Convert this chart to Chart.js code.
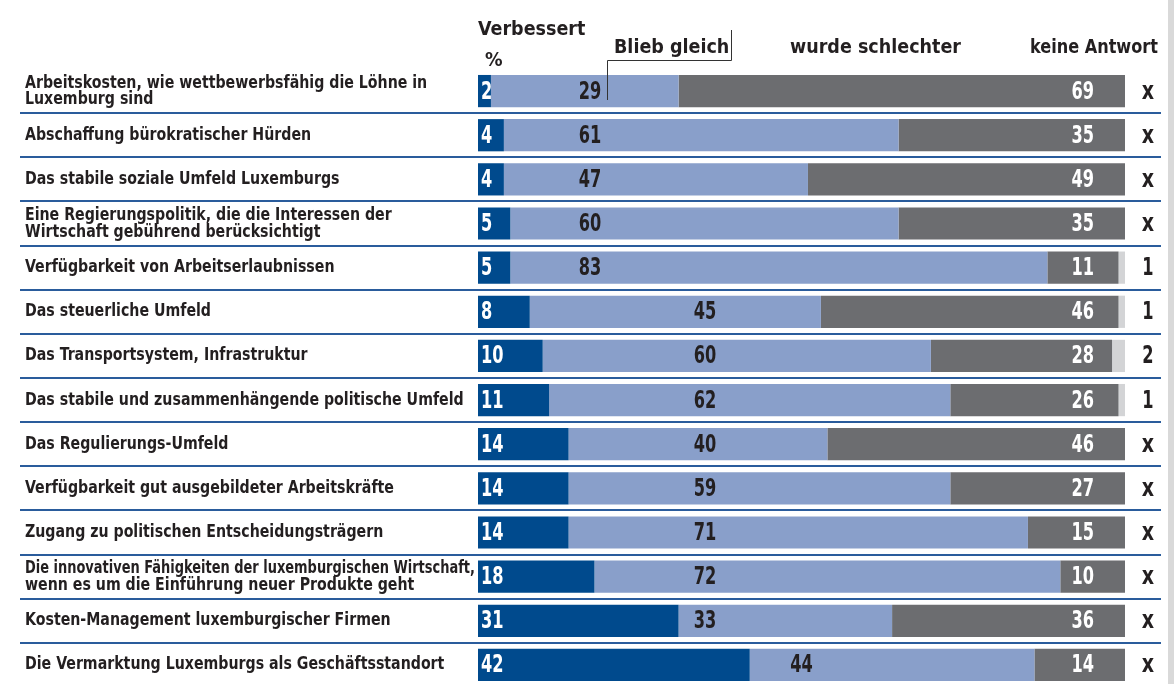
<!DOCTYPE html>
<html>
<head>
<meta charset="utf-8">
<script src="https://cdn.jsdelivr.net/npm/chart.js@4"></script>
<style>
  html, body { margin: 0; padding: 0; background: #fff; overflow: hidden; }
</style>
</head>
<body>
<canvas id="chart" width="1174" height="688"></canvas>
<script>
const FONT = '"DejaVu Sans Condensed", "DejaVu Sans", sans-serif';

const categories = [
  ['Arbeitskosten, wie wettbewerbsfähig die Löhne in', 'Luxemburg sind'],
  'Abschaffung bürokratischer Hürden',
  'Das stabile soziale Umfeld Luxemburgs',
  ['Eine Regierungspolitik, die die Interessen der', 'Wirtschaft gebührend berücksichtigt'],
  'Verfügbarkeit von Arbeitserlaubnissen',
  'Das steuerliche Umfeld',
  'Das Transportsystem, Infrastruktur',
  'Das stabile und zusammenhängende politische Umfeld',
  'Das Regulierungs-Umfeld',
  'Verfügbarkeit gut ausgebildeter Arbeitskräfte',
  'Zugang zu politischen Entscheidungsträgern',
  ['Die innovativen Fähigkeiten der luxemburgischen Wirtschaft,', 'wenn es um die Einführung neuer Produkte geht'],
  'Kosten-Management luxemburgischer Firmen',
  'Die Vermarktung Luxemburgs als Geschäftsstandort'
];

const improved = [2, 4, 4, 5, 5, 8, 10, 11, 14, 14, 14, 18, 31, 42];
const unchanged = [29, 61, 47, 60, 83, 45, 60, 62, 40, 59, 71, 72, 33, 44];
const worse = [69, 35, 49, 35, 11, 46, 28, 26, 46, 27, 15, 10, 36, 14];
const noAnswer = [0, 0, 0, 0, 1, 1, 2, 1, 0, 0, 0, 0, 0, 0];

const DARK_BLUE = '#004a8d';
const LIGHT_BLUE = '#899fca';
const DARK_GREY = '#6c6d70';
const LIGHT_GREY = '#d3d4d6';
const TEXT = '#231f20';
const RULE = '#2a5c9c';

// the print font is a condensed grotesque, squeeze DejaVu horizontally
function narrowText(ctx, text, x, y, sx, maxW) {
  if (maxW) {
    const w = ctx.measureText(text).width * sx;
    if (w > maxW) sx = sx * maxW / w;
  }
  ctx.save();
  ctx.translate(x, y);
  ctx.scale(sx, 1);
  ctx.fillText(text, 0, 0);
  ctx.restore();
}

const overlay = {
  id: 'overlay',
  beforeDatasetsDraw(chart) {
    const { ctx, scales: { y } } = chart;
    ctx.save();
    ctx.fillStyle = '#d9d9d9';
    ctx.fillRect(1168, 0, 6, chart.height);
    // row separators
    ctx.strokeStyle = RULE;
    ctx.lineWidth = 2;
    for (let i = 0; i < categories.length - 1; i++) {
      const yy = Math.round((y.getPixelForValue(i) + y.getPixelForValue(i + 1)) / 2);
      ctx.beginPath();
      ctx.moveTo(20, yy);
      ctx.lineTo(1161, yy);
      ctx.stroke();
    }
    // category labels
    ctx.fillStyle = TEXT;
    ctx.textAlign = 'left';
    ctx.textBaseline = 'middle';
    ctx.font = 'bold 17.5px ' + FONT;
    categories.forEach((c, i) => {
      const yy = y.getPixelForValue(i);
      if (Array.isArray(c)) {
        narrowText(ctx, c[0], 25, yy - 8, 0.9, 450);
        narrowText(ctx, c[1], 25, yy + 8.5, 0.9, 450);
      } else {
        narrowText(ctx, c, 25, yy, 0.9, 450);
      }
    });
    ctx.restore();
  },
  afterDatasetsDraw(chart) {
    const { ctx, scales: { x, y } } = chart;
    ctx.save();
    ctx.font = 'bold 25px ' + FONT;
    ctx.textBaseline = 'middle';
    const sx = 0.72;
    categories.forEach((c, i) => {
      const yy = y.getPixelForValue(i) + 1;
      ctx.fillStyle = '#fff';
      ctx.textAlign = 'left';
      narrowText(ctx, String(improved[i]), x.getPixelForValue(0) + 3, yy, sx);
      // "Blieb gleich" numbers sit in two columns, pushed right only when the dark bar is long
      const v = improved[i];
      const anchor = v <= 5 ? 17.3 : (v < 35 ? 35.1 : v + 8);
      ctx.fillStyle = TEXT;
      ctx.textAlign = 'center';
      narrowText(ctx, String(unchanged[i]), x.getPixelForValue(anchor), yy, sx);
      ctx.fillStyle = '#fff';
      ctx.textAlign = 'right';
      narrowText(ctx, String(worse[i]), x.getPixelForValue(100) - 31, yy, sx);
      ctx.fillStyle = TEXT;
      ctx.textAlign = 'center';
      narrowText(ctx, noAnswer[i] ? String(noAnswer[i]) : 'x', 1148, yy, noAnswer[i] ? sx : 0.85);
    });

    // header
    ctx.fillStyle = TEXT;
    ctx.textAlign = 'left';
    ctx.textBaseline = 'alphabetic';
    ctx.font = 'bold 19.5px ' + FONT;
    narrowText(ctx, 'Verbessert', 478, 35, 1);
    narrowText(ctx, '%', 485, 66, 1);
    narrowText(ctx, 'Blieb gleich', 614, 53, 1);
    narrowText(ctx, 'wurde schlechter', 790, 53, 1);
    narrowText(ctx, 'keine Antwort', 1030, 53, 1, 128);

    // bracket for "Blieb gleich"
    ctx.strokeStyle = '#333';
    ctx.lineWidth = 1;
    ctx.beginPath();
    ctx.moveTo(607.5, 100);
    ctx.lineTo(607.5, 60.5);
    ctx.lineTo(731.5, 60.5);
    ctx.lineTo(731.5, 30);
    ctx.stroke();
    ctx.restore();
  }
};

new Chart(document.getElementById('chart'), {
  type: 'bar',
  data: {
    labels: categories,
    datasets: [
      { label: 'Verbessert', data: improved, backgroundColor: DARK_BLUE },
      { label: 'Blieb gleich', data: unchanged, backgroundColor: LIGHT_BLUE },
      { label: 'wurde schlechter', data: worse, backgroundColor: DARK_GREY },
      { label: 'keine Antwort', data: noAnswer, backgroundColor: LIGHT_GREY }
    ]
  },
  options: {
    indexAxis: 'y',
    responsive: false,
    animation: false,
    maintainAspectRatio: false,
    categoryPercentage: 0.73,
    barPercentage: 1,
    layout: { padding: { top: 69, right: 49, bottom: 1, left: 478 } },
    plugins: {
      legend: { display: false },
      tooltip: { enabled: false }
    },
    scales: {
      x: { stacked: true, min: 0, max: 100, display: false },
      y: { stacked: true, display: false }
    }
  },
  plugins: [overlay]
});
</script>
</body>
</html>
